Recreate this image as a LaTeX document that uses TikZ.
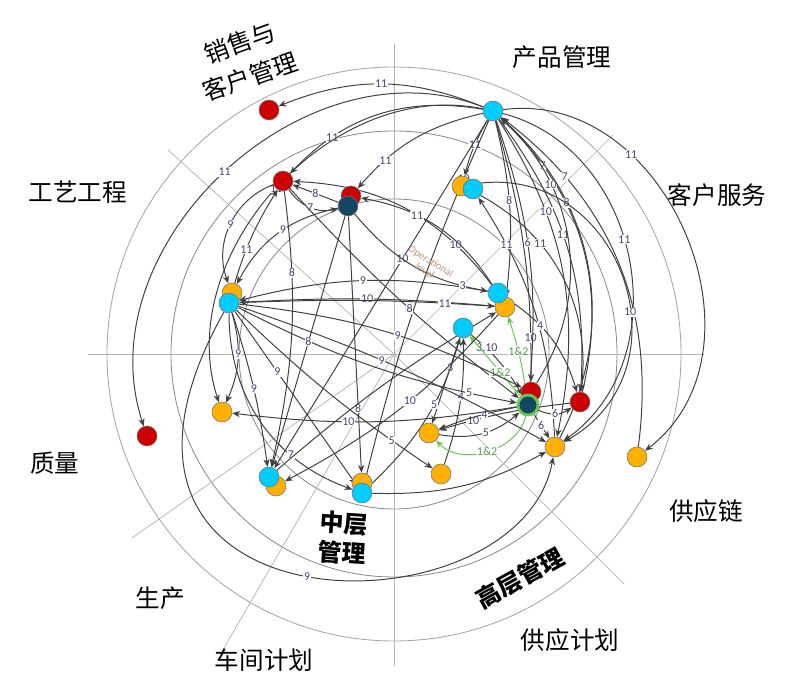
\documentclass[tikz,border=0pt]{standalone}
\usepackage{fontspec}
\setmainfont{Carlito}
\newfontfamily\cjk{Noto Sans CJK SC}
\usetikzlibrary{arrows.meta}

\definecolor{nodered}{RGB}{204,0,0}
\definecolor{nodecyan}{RGB}{0,204,255}
\definecolor{nodeorange}{RGB}{255,176,0}
\definecolor{nodenavy}{RGB}{22,70,98}
\definecolor{linkgreen}{RGB}{100,200,80}
\definecolor{numcol}{RGB}{70,70,115}
\definecolor{opcol}{RGB}{185,150,125}

\pgfdeclarelayer{back}
\pgfdeclarelayer{links}
\pgfsetlayers{back,links,main}

\begin{document}
\begin{tikzpicture}[x=0.025cm, y=-0.025cm, >={Stealth[length=5.5pt,width=4.5pt]},
    dot/.style={circle, draw=black!55, line width=0.4pt, minimum size=0.5cm, inner sep=0pt},
    redn/.style={dot, fill=nodered},
    cyann/.style={dot, fill=nodecyan},
    orgn/.style={dot, fill=nodeorange},
    navyn/.style={dot, fill=nodenavy},
    flow/.style={->, draw=black!75, line width=0.7pt},
    gflow/.style={->, draw=linkgreen, line width=0.7pt},
    num/.style={font=\fontsize{8.5}{8.5}\selectfont, text=numcol, fill=white, inner sep=0.5pt},
    gnum/.style={num, text=linkgreen!80!black},
    area/.style={font=\cjk\fontsize{17.5}{21}\selectfont, align=center},
    level/.style={font=\cjk\bfseries\fontsize{17}{21}\selectfont, align=center},
    axis/.style={draw=black!30, line width=0.5pt},
    ring/.style={draw=black!45, line width=0.6pt}]
    \useasboundingbox (0,0) rectangle (798,688);

    % Rings and sector lines
    \coordinate (o) at (394,354);
    \begin{pgfonlayer}{back}
        \draw[ring, draw=black!35] (o) circle[radius=287];
        \draw[ring] (o) circle[radius=223];
        \draw[ring] (o) circle[radius=155];
        \draw[axis] (o) -- (394,44);
        \draw[axis] (o) -- (613,135);
        \draw[axis] (o) -- (704,354);
        \draw[axis] (o) -- (624,584);
        \draw[axis] (o) -- (394,666);
        \draw[axis] (o) -- (224,648);
        \draw[axis] (o) -- (132,538);
        \draw[axis] (o) -- (88,354);
        \draw[axis] (o) -- (168,150);
    \end{pgfonlayer}

    % Sector names
    \node[area, rotate=20] (sales1) at (240,43) {销售与};
    \node[area, rotate=19] (sales2) at (250,77) {客户管理};
    \node[area] (prodm) at (562,57) {产品管理};
    \node[area] (cserv) at (717,195) {客户服务};
    \node[area] (proceng) at (78,192) {工艺工程};
    \node[area] (qual) at (55,463) {质量};
    \node[area] (supch) at (706,511) {供应链};
    \node[area] (prod) at (160,598) {生产};
    \node[area] (shopp) at (264,660) {车间计划};
    \node[area] (supp) at (570,640) {供应计划};

    % Levels
    \node[level, rotate=-4] (midm) at (343,538) {中层\\管理};
    \node[level, rotate=29] (topm) at (520,578) {高层管理};
    \node[font=\fontsize{7.5}{8}\selectfont, text=opcol, align=center, rotate=-32] (oplv) at (428,266) {Operational\\level};

    % Actors
    \node[cyann] (pm) at (493,111) {};
    \node[redn] (sa) at (269,110) {};
    \node[redn] (ra) at (283,181) {};
    \node[redn] (rb) at (351,196) {};
    \node[navyn] (da) at (348,206) {};
    \node[orgn] (oa) at (462,186) {};
    \node[cyann] (ca) at (473,189) {};
    \node[orgn] (ob) at (232,293) {};
    \node[cyann] (cb) at (229,303) {};
    \node[orgn] (oc) at (505,307) {};
    \node[cyann] (cc) at (498,293) {};
    \node[cyann] (cd) at (463,328) {};
    \node[orgn] (oe) at (222,412) {};
    \node[redn] (rq) at (147,436) {};
    \node[orgn] (of) at (276,486) {};
    \node[cyann] (cf) at (269,477) {};
    \node[orgn] (og) at (362,483) {};
    \node[cyann] (cg) at (362,493) {};
    \node[orgn] (oh) at (429,433) {};
    \node[orgn] (oi) at (441,474) {};
    \node[redn] (rc) at (531,392) {};
    \node[navyn, draw=linkgreen, line width=2pt] (dk) at (528,405) {};
    \node[redn] (rd) at (580,402) {};
    \node[orgn] (oj) at (555,447) {};
    \node[orgn] (ok) at (637,457) {};

    \begin{pgfonlayer}{links}
    % From product management
    \draw[flow] (pm) to[bend right=22] node[num,pos=.5]{11} (sa);
    \draw[flow] (pm) to[bend right=28] node[num,pos=.75]{11} (ra);
    \draw[flow] (pm) to[bend right=18] node[num,pos=.75]{11} (rb);
    \draw[flow] (pm) to[bend right=8] node[num,pos=.45]{11} (oa);
    \draw[flow] (pm) to[bend right=65, looseness=1.05] node[num,pos=.5]{11} (rq);
    \draw[flow] (pm) to[bend right=60] node[num,pos=.5]{11} (oe);
    \draw[flow] (pm) to[bend left=75, looseness=1.15] node[num,pos=.3]{11} (ok);
    \draw[flow] (pm) to[bend left=65, looseness=1.1] node[num,pos=.45]{11} (oj);
    \draw[flow] (pm) to[bend left=20] node[num,pos=.45]{11} (rd);
    \draw[flow] (pm) to[bend left=8] node[num,pos=.85]{10} (rc);
    \draw[flow] (pm) to[bend left=10] node[num,pos=.45]{8} (oc);
    \draw[flow] (pm) to[bend left=12] node[num,pos=.45]{6} (dk);
    \draw[flow] (pm) to[bend left=22] node[num,pos=.3]{10} (oj);
    \draw[flow] (pm) to[bend right=5] node[num,pos=.15]{10} (cg);
    \draw[flow] (pm) to node[num,pos=.4]{10} (cf);

    % Into product management
    \draw[flow] (rd) to[bend right=30] node[num,pos=.8]{7} (pm);
    \draw[flow] (ok) to[bend right=30] node[num,pos=.78]{7} (pm);
    \draw[flow] (rc) to[bend right=40] node[num,pos=.72]{10} (pm);
    \draw[flow] (oj) to[bend right=38] node[num,pos=.7]{8} (pm);

    % Sales and engineering
    \draw[flow] (cb) to[bend left=8] node[num,pos=.4]{11} (ra);
    \draw[flow] (da) to node[num,pos=.5]{8} (ra);
    \draw[flow] (ra) to[bend right=35] node[num,pos=.5]{7} (da);
    \draw[flow] (ra) to[bend right=45] node[num,pos=.5]{9} (ob);
    \draw[flow] (da) to[bend right=25] node[num,pos=.45]{9} (ob);
    \draw[flow] (cc) to[bend right=25] node[num,pos=.22]{10} (ra);
    \draw[flow] (oc) to[bend right=25] node[num,pos=.68]{11} (rb);
    \draw[flow] (oj) to[bend right=15] node[num,pos=.8]{11} (ca);

    % Middle
    \draw[flow] (cc) to[bend right=12] node[num,pos=.5]{9} (cb);
    \draw[flow] (oc) to[bend right=4] node[num,pos=.5]{10} (cb);
    \draw[flow] (da) to[bend right=20] node[num,pos=.85]{3} (cc);
    \draw[flow] (cb) to[bend left=3] node[num,pos=.82]{11} (oc);
    \draw[flow] (ra) to[bend right=5] node[num,pos=.55]{8} (dk);
    \draw[flow] (cd) to[bend left=10] node[num,pos=.25]{3,10} (dk);
    \draw[flow] (cc) to[bend left=20] node[num,pos=.35]{4} (rd);
    \draw[flow] (cd) to node[num,pos=.35]{3} (oh);
    \draw[flow] (cg) to[bend right=15] node[num,pos=.6]{5} (cd);
    \draw[flow] (oi) to[bend right=10] node[num,pos=.55]{4} (cd);
    \draw[flow] (cb) to[bend right=8] node[num,pos=.85]{5} (dk);
    \draw[flow] (rd) to[bend right=5] node[num,pos=.75]{10} (oh);
    \draw[flow] (dk) to[bend right=5] node[num,pos=.4]{4} (oh);
    \draw[flow] (oh) to[bend right=25] node[num,pos=.55]{5} (dk);
    \draw[flow] (dk) to[bend right=30] node[num,pos=.5]{6} (rd);
    \draw[flow] (dk) to node[num,pos=.45]{6} (oj);
    \draw[flow] (cb) to[bend right=5] node[num,pos=.82]{5} (oi);

    % Green links
    \draw[gflow] (dk) to[bend right=5] node[gnum,pos=.55]{1\&2} (oc);
    \draw[gflow] (dk) to node[gnum,pos=.4]{1\&2} (cd);
    \draw[gflow] (dk) to[bend left=62] node[gnum,pos=.5]{1\&2} (oh);

    % Lower left
    \draw[flow] (cb) to[bend left=20] node[num,pos=.45]{9} (oe);
    \draw[flow] (cb) to[bend left=5] node[num,pos=.5]{9} (cf);
    \draw[flow] (da) to node[num,pos=.5]{8} (cf);
    \draw[flow] (cb) to node[num,pos=.35]{9} (cg);
    \draw[flow] (cb) to[bend left=5] node[num,pos=.45]{9} (oj);
    \draw[flow] (cb) to[bend left=10] node[num,pos=.55]{9} (rc);
    \draw[flow] (dk) to[bend left=8] node[num,pos=.6]{10} (oe);
    \draw[flow] (da) to node[num,pos=.75]{8} (og);
    \draw[flow] (oc) to[bend left=10] node[num,pos=.45]{10} (of);
    \draw[flow] (cb) to[bend right=35] node[num,pos=.7]{7} (cg);
    \draw[flow] (cb) .. controls (40,640) and (520,640) .. node[num,pos=.5]{9} (oj);
    \draw[flow] (ra) to[bend left=10] node[num,pos=.28]{8} (cf);
    \draw[flow] (oa) to[bend left=80, looseness=1.4] node[num,pos=.6]{10} (oj);
    \draw[flow] (oa) to[bend left=35] node[num,pos=.35]{11} (rd);
    \draw[flow] (cg) to[bend right=15] (oj);
    \draw[flow] (cf) to[bend left=5] (oc);
    \end{pgfonlayer}
\end{tikzpicture}
\end{document}
